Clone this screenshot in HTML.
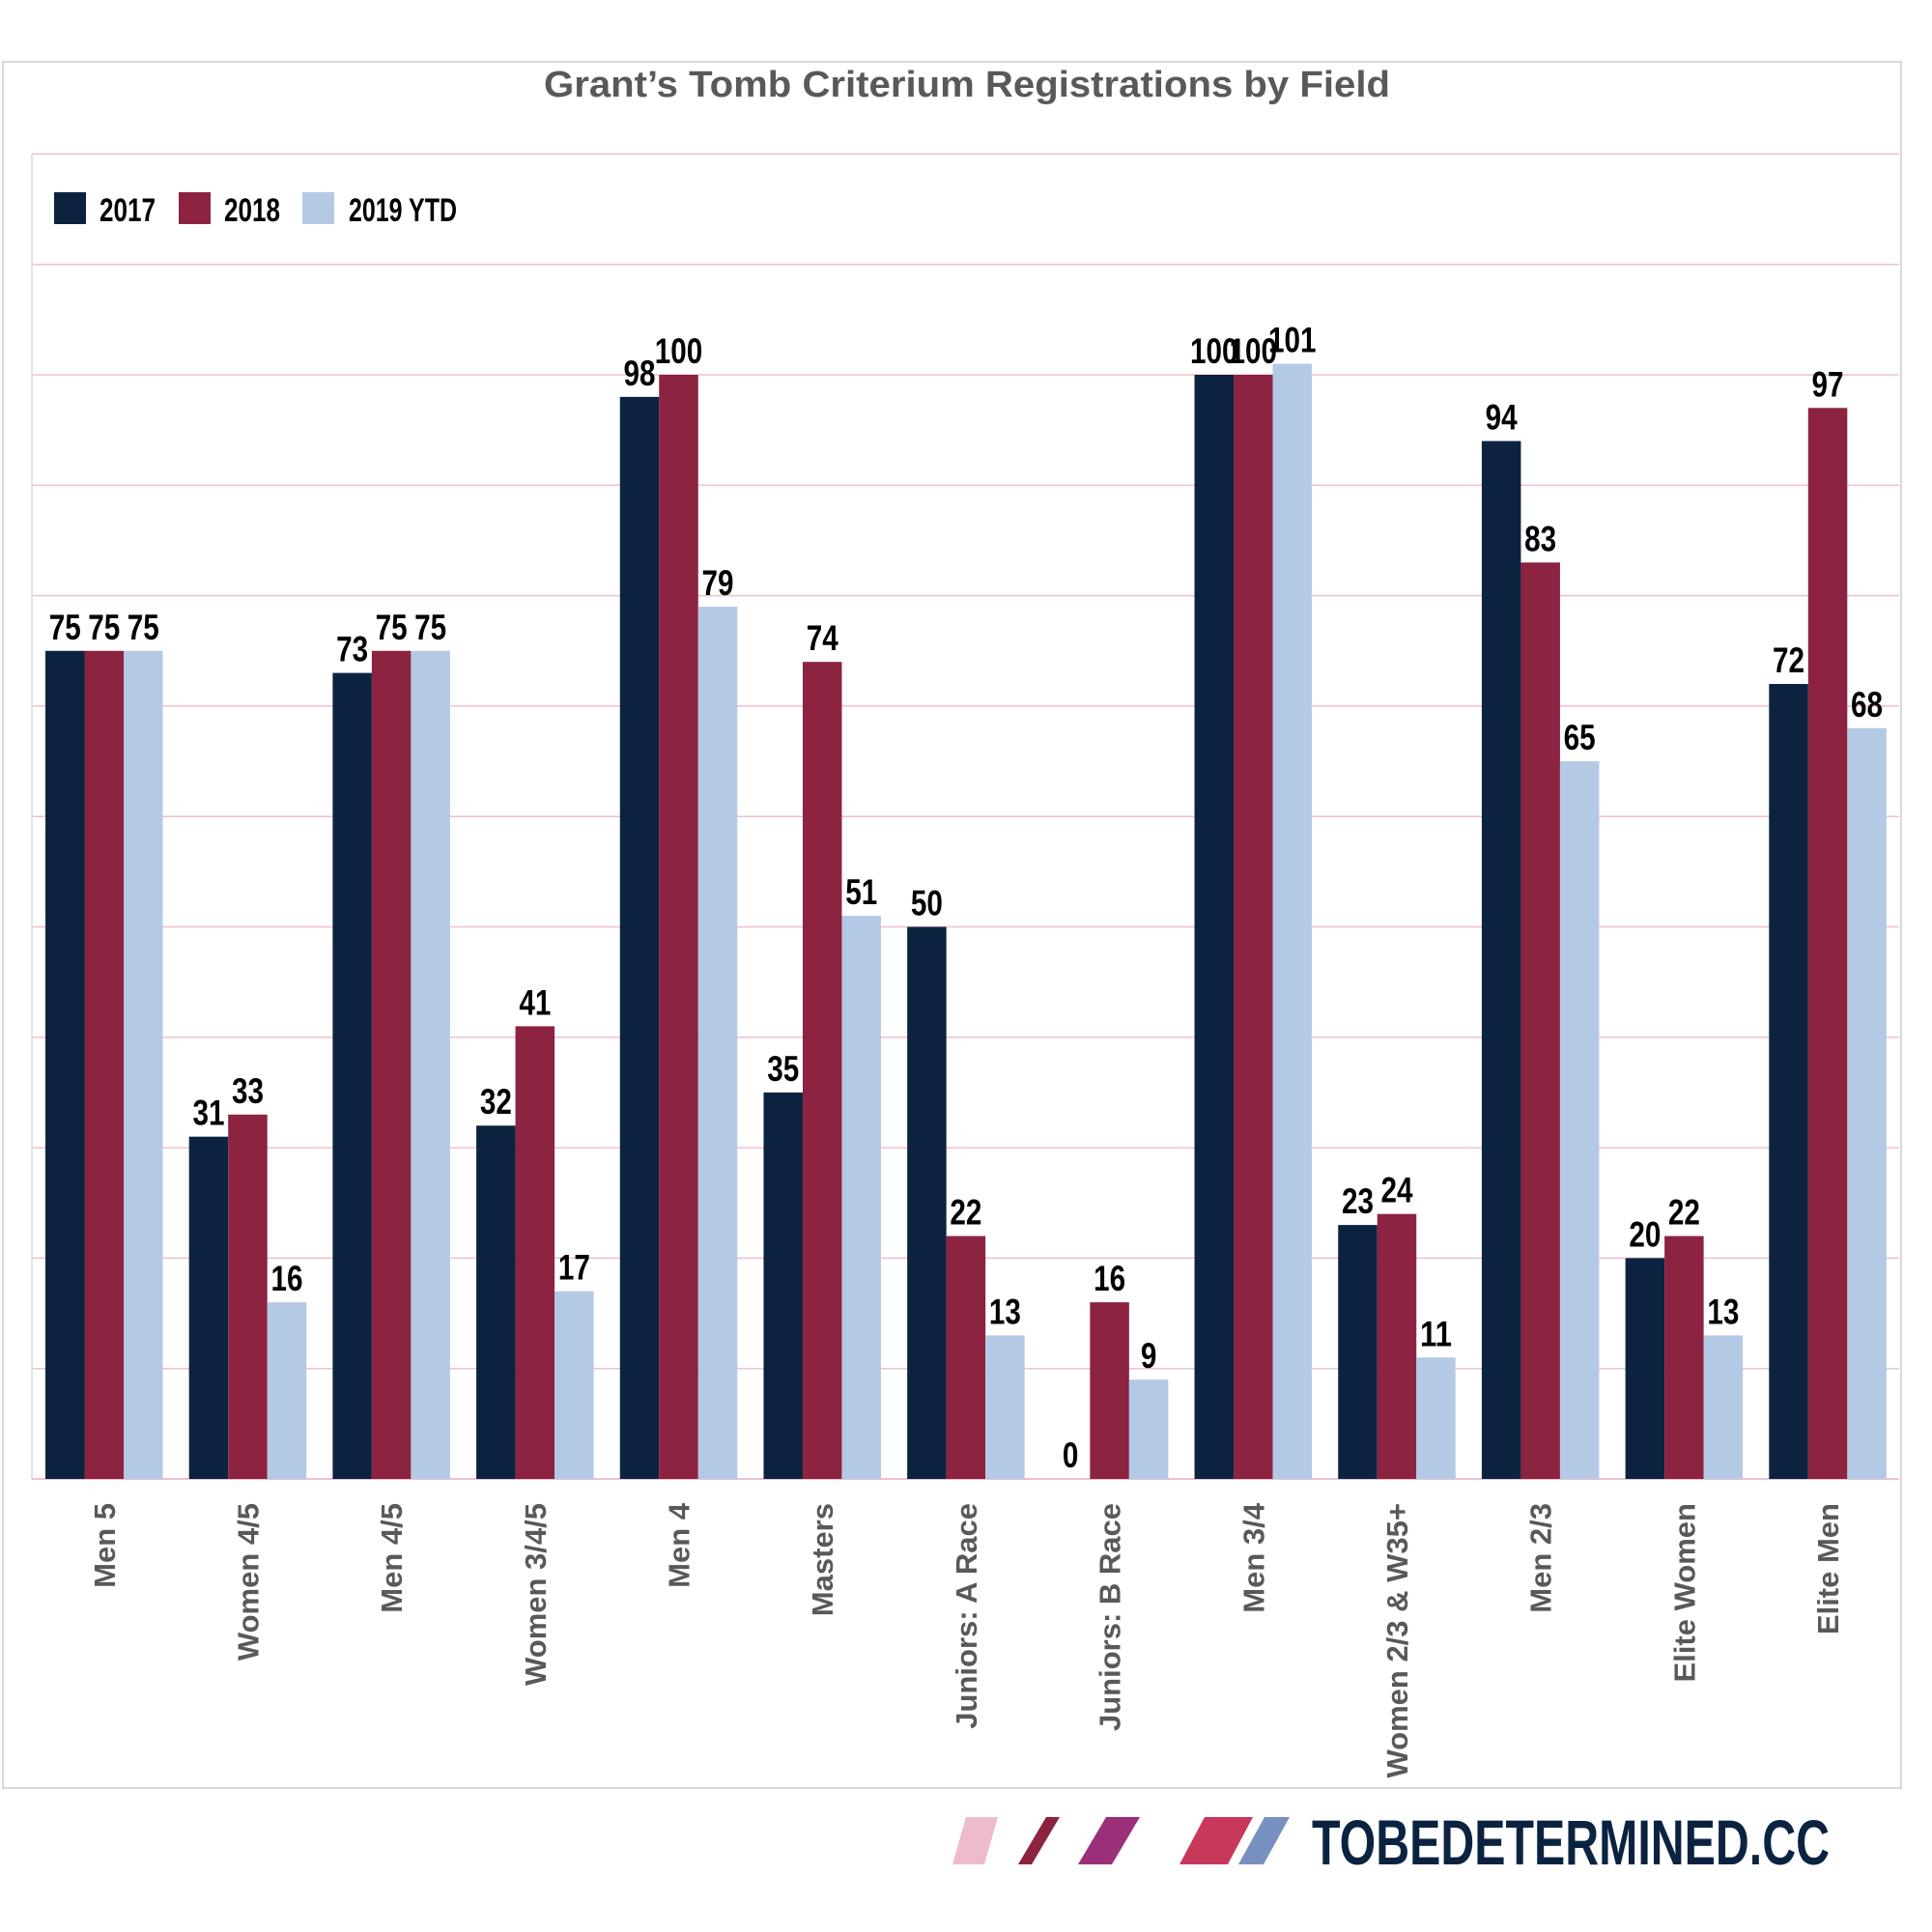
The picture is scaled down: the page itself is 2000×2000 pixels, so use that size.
<!DOCTYPE html>
<html><head><meta charset="utf-8"><style>
html,body{margin:0;padding:0;background:#fff;}
svg{display:block;}
.cond{font-family:"Liberation Sans",sans-serif;font-weight:bold;}
</style></head><body>
<svg id="chart" width="2000" height="2000" viewBox="0 0 2000 2000" xmlns="http://www.w3.org/2000/svg">
<rect x="3" y="64" width="1965" height="1787" fill="#fff" stroke="#d9d9d9" stroke-width="2"/>
<text x="1001" y="100" text-anchor="middle" font-family="'Liberation Sans',sans-serif" font-weight="bold" font-size="38" fill="#595959" textLength="876" lengthAdjust="spacingAndGlyphs">Grant’s Tomb Criterium Registrations by Field</text>
<g id="grid"></g>
<g id="bars"></g>
<g id="labels"></g>
<g id="cats"></g>
<g>
<rect x="56" y="199" width="33" height="33" fill="#0c2340"/>
<text class="cond" x="103" y="229" font-size="34" fill="#000" textLength="58" lengthAdjust="spacingAndGlyphs">2017</text>
<rect x="185" y="199" width="33" height="33" fill="#8b2341"/>
<text class="cond" x="232" y="229" font-size="34" fill="#000" textLength="58" lengthAdjust="spacingAndGlyphs">2018</text>
<rect x="313" y="199" width="33" height="33" fill="#b4c9e4"/>
<text class="cond" x="361" y="229" font-size="34" fill="#000" textLength="112" lengthAdjust="spacingAndGlyphs">2019 YTD</text>
</g>
<g>
<polygon points="1000,1881 1033,1881 1019,1930 986,1930" fill="#eebbcc"/>
<polygon points="1083,1881 1097,1881 1068,1930 1054,1930" fill="#8b2341"/>
<polygon points="1145,1881 1180,1881 1151,1930 1116,1930" fill="#9b2f7a"/>
<polygon points="1247,1881 1297,1881 1271,1930 1221,1930" fill="#c8385a"/>
<polygon points="1309,1881 1335,1881 1308,1930 1282,1930" fill="#7890c0"/>
<text class="cond" x="1358" y="1930" font-size="66" fill="#0b2341" textLength="536" lengthAdjust="spacingAndGlyphs">TOBEDETERMINED.CC</text>
</g>
</svg>
<script>
const categories = ["Men 5","Women 4/5","Men 4/5","Women 3/4/5","Men 4","Masters","Juniors: A Race","Juniors: B Race","Men 3/4","Women 2/3 & W35+","Men 2/3","Elite Women","Elite Men"];
const series2017 = [75,31,73,32,98,35,50,0,100,23,94,20,72];
const series2018 = [75,33,75,41,100,74,22,16,100,24,83,22,97];
const series2019 = [75,16,75,17,79,51,13,9,101,11,65,13,68];
const yTicks = [0,10,20,30,40,50,60,70,80,90,100,110,120];

const NS = "http://www.w3.org/2000/svg";
const plotLeft = 33, plotRight = 1966, axisY = 1531, pxPerUnit = 11.43;
const catW = (plotRight - plotLeft) / categories.length;
const barW = 40.5, groupPad = 14;
function yScale(v){ return axisY - v * pxPerUnit; }
function xBand(i){ return plotLeft + i * catW + groupPad; }
function mk(tag, attrs, parent){ const e = document.createElementNS(NS, tag); for (const k in attrs) e.setAttribute(k, attrs[k]); parent.appendChild(e); return e; }

const grid = document.getElementById('grid');
yTicks.forEach(t => {
  const l = mk('line', {x1: plotLeft, x2: plotRight, y1: yScale(t), y2: yScale(t), stroke: '#f0bfd0', 'stroke-width': 1.5}, grid);
  
  
});
const vline = mk('line', {x1: plotLeft, x2: plotLeft, y1: yScale(120), y2: axisY, stroke: '#d9d9d9', 'stroke-width': 1.5}, grid);



const bars = document.getElementById('bars');
const labels = document.getElementById('labels');
const cats = document.getElementById('cats');
const allSeries = [series2017, series2018, series2019];
const colors = ['#0c2340', '#8b2341', '#b4c9e4'];
const keys = ['2017', '2018', '2019'];
categories.forEach((c, i) => {
  allSeries.forEach((s, j) => {
    const v = s[i];
    const x = xBand(i) + j * barW;
    const r = mk('rect', {x: x, y: yScale(v), width: barW, height: axisY - yScale(v), fill: colors[j]}, bars);
    
    
    const txt = String(v);
    const t = mk('text', {x: x + barW / 2, y: yScale(v) - 12, 'text-anchor': 'middle', 'font-size': 37, fill: '#000', class: 'cond', textLength: txt.length * 16.5, lengthAdjust: 'spacingAndGlyphs'}, labels);
    t.textContent = txt;
    
    
  });
  const cx = xBand(i) + 1.5 * barW + 11;
  const ct = mk('text', {x: 0, y: 0, 'text-anchor': 'end', 'font-size': 31, fill: '#595959', class: 'cond', transform: 'translate(' + cx + ',1556) rotate(-90)'}, cats);
  ct.textContent = c;
  
  
});
const ax = mk('line', {x1: plotLeft, x2: plotRight, y1: axisY, y2: axisY, stroke: '#f0bfd0', 'stroke-width': 2}, grid);


</script>
</body></html>
